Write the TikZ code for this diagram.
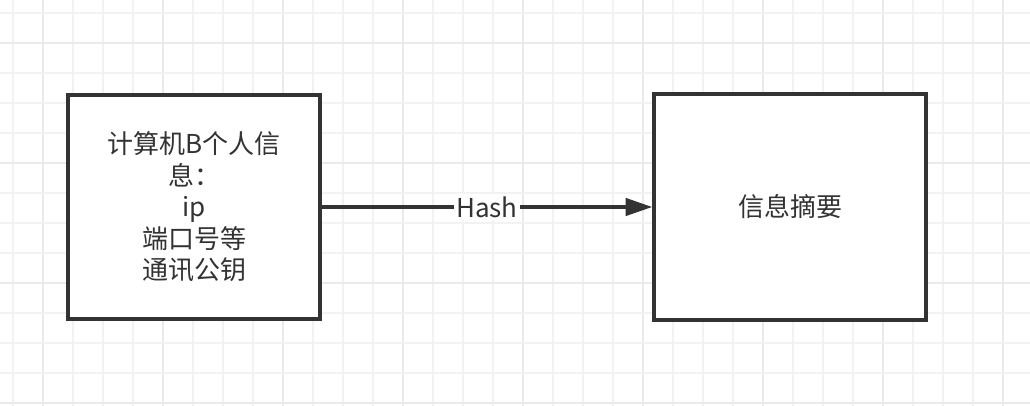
\documentclass[tikz,border=0pt]{standalone}
\usepackage{fontspec}
\newfontfamily\cjk{Noto Sans CJK SC}
\usetikzlibrary{arrows.meta}
\definecolor{ink}{HTML}{333333}
\definecolor{gridA}{HTML}{F2F2F2}
\definecolor{gridB}{HTML}{EAEAEA}
\tikzset{
  px/.style={x=0.75pt,y=-0.75pt},
  boxnode/.style={draw=ink,line width=2.6pt,fill=white,align=center,text=ink,
    font=\cjk\fontsize{19.5pt}{23.6pt}\selectfont,inner sep=0pt},
  conn/.style={draw=ink,line width=2.6pt,-{Triangle[length=20pt,width=13pt]}},
  lbl/.style={fill=white,text=ink,font=\cjk\fontsize{19.5pt}{23.6pt}\selectfont,inner sep=2pt}
}
\begin{document}
\begin{tikzpicture}[px]
\useasboundingbox (0,0) rectangle (1030,406);
\fill[white] (0,0) rectangle (1030,406);
\foreach \i in {0,...,33}{
  \pgfmathtruncatemacro\xx{13+30*\i}
  \pgfmathtruncatemacro\m{mod(\i,4)}
  \ifnum\m=1 \draw[gridB,line width=1.3pt] (\xx,0) -- (\xx,406);
  \else \draw[gridA,line width=1.3pt] (\xx,0) -- (\xx,406); \fi
}
\foreach \i in {0,...,13}{
  \pgfmathtruncatemacro\yy{13+30*\i}
  \pgfmathtruncatemacro\m{mod(\i,4)}
  \ifnum\m=1 \draw[gridB,line width=1.3pt] (0,\yy) -- (1030,\yy);
  \else \draw[gridA,line width=1.3pt] (0,\yy) -- (1030,\yy); \fi
}
\node[boxnode,minimum width=189pt,minimum height=168pt] (a) at (194,207)
  {计算机B个人信\\息：\\ip\\端口号等\\通讯公钥};
\node[boxnode,minimum width=204pt,minimum height=169.5pt] (b) at (790,207) {信息摘要};
\draw[conn] (a) -- node[lbl] {Hash} (b);
\end{tikzpicture}
\end{document}
